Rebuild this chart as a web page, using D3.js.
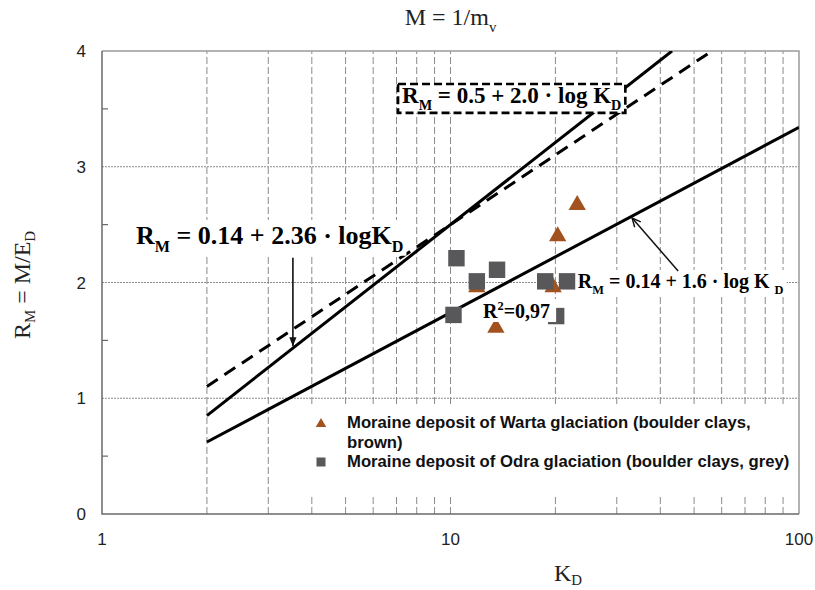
<!DOCTYPE html>
<html>
<head>
<meta charset="utf-8">
<script src="https://cdn.jsdelivr.net/npm/d3@7"></script>
<style>
  body { margin: 0; background: #fff; }
  svg { display: block; }
  text { white-space: pre; }
</style>
</head>
<body>
<svg id="chart" width="815" height="590"></svg>
<script>
// Axis ticks
const kdTicks = [1, 10, 100];
const rmTicks = [0, 1, 2, 3, 4];
const rmMinorTicks = [0.5, 1.5, 2.5, 3.5];
const kdGrid = [2, 3, 4, 5, 6, 7, 8, 9, 10, 20, 30, 40, 50, 60, 70, 80, 90];

// Moraine deposit of Warta glaciation (boulder clays, brown)
const wartaKD = [23.1, 20.3, 13.5, 11.9, 19.7];
const wartaRM = [2.67, 2.40, 1.61, 1.96, 1.96];

// Moraine deposit of Odra glaciation (boulder clays, grey)
const odraKD = [10.4, 13.6, 11.9, 18.7, 21.6, 10.2, 20.1];
const odraRM = [2.21, 2.11, 2.01, 2.01, 2.01, 1.72, 1.71];

// Correlations R_M = a + b · log K_D
const corrIntercept = [0.14, 0.5, 0.14];
const corrSlope = [2.36, 2.0, 1.6];
const corrDashed = [false, true, false];
const corrFrom = [2, 2, 2];
const corrTo = [100, 100, 100];

const legendLabels = [
  ["Moraine deposit of Warta glaciation (boulder clays,", "brown)"],
  ["Moraine deposit of Odra glaciation (boulder clays, grey)"]
];

const W = 815, H = 590;
const SERIF = '"Liberation Serif","Times New Roman",serif';
const SANS = '"Liberation Sans",Arial,sans-serif';
const BROWN = "#a2521f", GREY = "#58585a";

const svg = d3.select("#chart");
svg.append("rect").attr("width", W).attr("height", H).attr("fill", "#fff");

const x = d3.scaleLog().domain([1, 100]).range([102, 799]);
const y = d3.scaleLinear().domain([0, 4]).range([514, 51]);

const defs = svg.append("defs");
defs.append("clipPath").attr("id", "plot-clip").append("rect")
  .attr("x", x(1)).attr("y", y(4))
  .attr("width", x(100) - x(1)).attr("height", y(0) - y(4));
defs.append("marker").attr("id", "arrow-solid")
  .attr("viewBox", "0 0 10 10").attr("refX", 10).attr("refY", 5)
  .attr("markerWidth", 11).attr("markerHeight", 9)
  .attr("markerUnits", "userSpaceOnUse").attr("orient", "auto")
  .append("path").attr("d", "M0,1 L10,5 L0,9 Z").attr("fill", "#111");
defs.append("marker").attr("id", "arrow-open")
  .attr("viewBox", "0 0 10 10").attr("refX", 9.5).attr("refY", 5)
  .attr("markerWidth", 11).attr("markerHeight", 9)
  .attr("markerUnits", "userSpaceOnUse").attr("orient", "auto")
  .append("path").attr("d", "M0,0.5 L9.5,5 L0,9.5")
  .attr("fill", "none").attr("stroke", "#111").attr("stroke-width", 1.6);

// Grid
const gridV = svg.append("g");
gridV.selectAll("line").data(kdGrid).join("line")
  .attr("x1", d => x(d)).attr("x2", d => x(d))
  .attr("y1", y(0)).attr("y2", y(4))
  .attr("stroke", "#8a8a8a").attr("stroke-width", 1)
  .attr("stroke-dasharray", "7,3");
const gridH = svg.append("g");
gridH.selectAll("line").data(rmTicks.filter(d => d > 0 && d < 4)).join("line")
  .attr("x1", x(1)).attr("x2", x(100))
  .attr("y1", d => y(d)).attr("y2", d => y(d))
  .attr("stroke", "#8a8a8a").attr("stroke-width", 1.2)
  .attr("stroke-dasharray", "2,1");

// Frame
svg.append("path")
  .attr("d", `M${x(1)},${y(4)} H${x(100)} V${y(0)}`)
  .attr("fill", "none").attr("stroke", "#9a9a9a").attr("stroke-width", 1.5);
svg.append("path")
  .attr("d", `M${x(1)},${y(4)} V${y(0)} H${x(100)}`)
  .attr("fill", "none").attr("stroke", "#6a6a6a").attr("stroke-width", 1.5);
svg.append("g").selectAll("line").data(rmMinorTicks).join("line")
  .attr("x1", x(1)).attr("x2", x(1) + 6)
  .attr("y1", d => y(d)).attr("y2", d => y(d))
  .attr("stroke", "#6a6a6a").attr("stroke-width", 1.2);

// Correlation lines
const corr = corrSlope.map((b, i) => {
  const a = corrIntercept[i];
  return {
    a, b, dashed: corrDashed[i], from: corrFrom[i],
    to: Math.min(corrTo[i], Math.pow(10, (4 - a) / b))
  };
});
const lineGen = d3.line().x(d => x(d.k)).y(d => y(d.r));
svg.append("g").attr("clip-path", "url(#plot-clip)")
  .selectAll("path").data(corr).join("path")
  .attr("d", c => lineGen([c.from, c.to].map(k => ({ k, r: c.a + c.b * Math.log10(k) }))))
  .attr("fill", "none").attr("stroke", "#000").attr("stroke-width", 3)
  .attr("stroke-dasharray", c => c.dashed ? "13,8" : null);

// Data points
const triangle = d3.symbol().type(d3.symbolTriangle).size(130);
const square = d3.symbol().type(d3.symbolSquare).size(270);
svg.append("g").selectAll("path")
  .data(wartaKD.map((k, i) => ({ k, r: wartaRM[i] }))).join("path")
  .attr("transform", d => `translate(${x(d.k)},${y(d.r)})`)
  .attr("d", triangle).attr("fill", BROWN);
svg.append("g").selectAll("path")
  .data(odraKD.map((k, i) => ({ k, r: odraRM[i] }))).join("path")
  .attr("transform", d => `translate(${x(d.k)},${y(d.r)})`)
  .attr("d", square).attr("fill", GREY);

// Text with sub/superscripts
function richText(parent, px, py, parts, size, weight, subShift = 0.3) {
  const t = parent.append("text")
    .attr("x", px).attr("y", py)
    .attr("font-family", SERIF).attr("font-size", size)
    .attr("font-weight", weight).attr("fill", "#000");
  let shift = 0;
  parts.forEach(p => {
    const s = p.sub ? size * subShift : p.sup ? -size * 0.4 : 0;
    t.append("tspan")
      .attr("dy", s - shift)
      .attr("font-size", (p.sub || p.sup) ? size * 0.62 : size)
      .text(p.t);
    shift = s;
  });
  return t;
}
function backing(g, t, pad) {
  const b = t.node().getBBox();
  g.insert("rect", "text")
    .attr("x", b.x - pad[3]).attr("y", b.y - pad[0])
    .attr("width", b.width + pad[1] + pad[3])
    .attr("height", b.height + pad[0] + pad[2])
    .attr("fill", "#fff");
  return b;
}

// Upper solid correlation label + arrow
const gUp = svg.append("g");
const tUp = richText(gUp, x(1.252), y(2.333),
  [{ t: "R" }, { t: "M", sub: true }, { t: " = 0.14 + 2.36 · logK" }, { t: "D", sub: true }], 26, "bold");
const bUp = backing(gUp, tUp, [1, 3, 1, 3]);
const kUp = 3.53;
svg.append("line")
  .attr("x1", x(kUp)).attr("x2", x(kUp))
  .attr("y1", bUp.y + bUp.height + 3)
  .attr("y2", y(corrIntercept[0] + corrSlope[0] * Math.log10(kUp)) - 2)
  .attr("stroke", "#111").attr("stroke-width", 1.6)
  .attr("marker-end", "url(#arrow-solid)");

// Dashed correlation label in dashed box
const gBox = svg.append("g");
const tBox = richText(gBox, x(7.26), y(3.551),
  [{ t: "R" }, { t: "M", sub: true }, { t: " = 0.5 + 2.0 · log K" }, { t: "D", sub: true }], 23, "bold");
const bBox = tBox.node().getBBox();
gBox.insert("rect", "text")
  .attr("x", bBox.x - 4).attr("y", bBox.y + 1)
  .attr("width", bBox.width + 8).attr("height", bBox.height - 1)
  .attr("fill", "#fff").attr("stroke", "#000").attr("stroke-width", 2.6)
  .attr("stroke-dasharray", "8,4");

// Lower correlation label + arrow
const gLow = svg.append("g");
const tLow = richText(gLow, x(23.2), y(1.953),
  [{ t: "R" }, { t: "M", sub: true }, { t: " = 0.14 + 1.6 · log K " }, { t: "D", sub: true }], 20, "bold");
const bLow = backing(gLow, tLow, [0, 3, 0, 2]);
const kLowTip = 33.2, kLowTail = 45.0;
svg.append("line")
  .attr("x1", x(kLowTail)).attr("y1", bLow.y + 1)
  .attr("x2", x(kLowTip))
  .attr("y2", y(corrIntercept[2] + corrSlope[2] * Math.log10(kLowTip)) + 2)
  .attr("stroke", "#111").attr("stroke-width", 1.5)
  .attr("marker-end", "url(#arrow-open)");

// Coefficient of determination
const gR2 = svg.append("g");
const tR2 = richText(gR2, x(12.4), y(1.693),
  [{ t: "R" }, { t: "2", sup: true }, { t: "=0,97" }], 20, "bold");
backing(gR2, tR2, [0, 6, 0, 3]);

// Legend
const lg = svg.append("g");
lg.append("rect").attr("x", 298).attr("y", 405).attr("width", 500).attr("height", 91)
  .attr("fill", "#fff");
lg.append("path").attr("transform", "translate(321,424)")
  .attr("d", d3.symbol().type(d3.symbolTriangle).size(48)).attr("fill", BROWN);
lg.append("path").attr("transform", "translate(321,462)")
  .attr("d", d3.symbol().type(d3.symbolSquare).size(81)).attr("fill", GREY);
const legendBaselines = [[428, 448], [467]];
legendLabels.forEach((lines, i) => {
  lines.forEach((s, j) => {
    lg.append("text").attr("x", 347).attr("y", legendBaselines[i][j])
      .attr("font-family", SANS).attr("font-size", 16.7).attr("font-weight", "bold")
      .attr("fill", "#111").text(s);
  });
});

// Tick labels
svg.append("g").selectAll("text").data(rmTicks).join("text")
  .attr("x", 86).attr("y", d => y(d)).attr("dy", "0.36em")
  .attr("text-anchor", "end").attr("font-family", SANS).attr("font-size", 17)
  .attr("fill", "#222").text(d => d);
svg.append("g").selectAll("text").data(kdTicks).join("text")
  .attr("x", d => x(d)).attr("y", 545)
  .attr("text-anchor", "middle").attr("font-family", SANS).attr("font-size", 17)
  .attr("fill", "#222").text(d => d);

// Axis titles and heading
const gTitle = svg.append("g");
richText(gTitle, 0, 0, [{ t: "M = 1/m" }, { t: "v", sub: true }], 24, "normal")
  .attr("text-anchor", "middle")
  .attr("transform", `translate(${(x(1) + x(100)) / 2},25)`)
  .attr("fill", "#222");
richText(svg.append("g"), 0, 0, [{ t: "K" }, { t: "D", sub: true }], 24, "normal", 0.18)
  .attr("text-anchor", "middle")
  .attr("transform", "translate(568,581)").attr("fill", "#222");
richText(svg.append("g"), 0, 0, [{ t: "R" }, { t: "M", sub: true }, { t: " = M/E" }, { t: "D", sub: true }], 24, "normal", 0.22)
  .attr("text-anchor", "middle")
  .attr("transform", "translate(30,285) rotate(-90)").attr("fill", "#222");
</script>
</body>
</html>
